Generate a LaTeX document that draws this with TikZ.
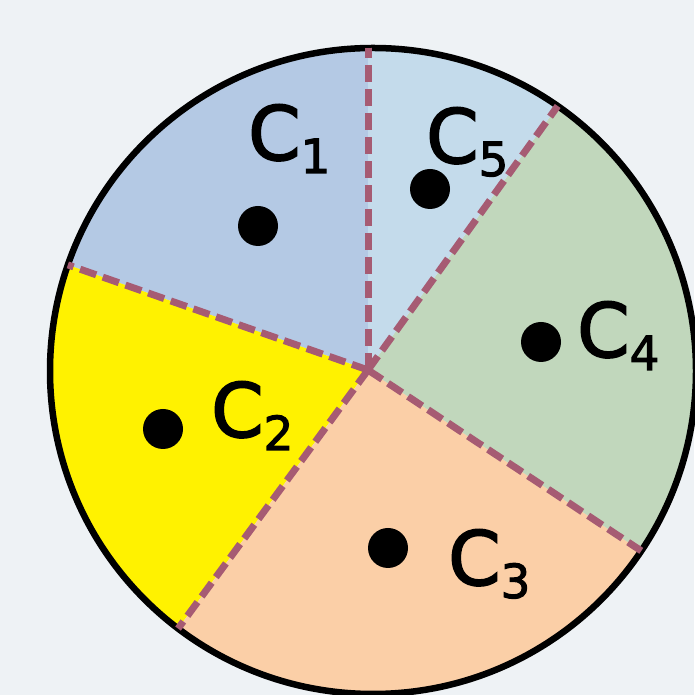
\documentclass[tikz,border=0pt]{standalone}
\usepackage{fontspec}
\setmainfont{DejaVu Sans}
\newfontfamily\lblfont[FakeBold=2.2]{DejaVu Sans}
\usetikzlibrary{calc}
\definecolor{bg}{HTML}{EEF2F5}
\definecolor{cone}{HTML}{B4C9E4}
\definecolor{ctwo}{HTML}{FFF200}
\definecolor{cthree}{HTML}{FBCFA7}
\definecolor{cfour}{HTML}{C1D7BC}
\definecolor{cfive}{HTML}{C4DBEB}
\definecolor{divcol}{HTML}{A65B73}
\newcommand{\subfont}{\fontsize{47}{47}\selectfont}
\tikzset{
  dot/.style={circle,fill=black,inner sep=0pt,minimum size=40pt},
  lbl/.style={anchor=base west,inner sep=0pt,font=\lblfont\fontsize{75}{75}\selectfont},
  divider/.style={divcol,line width=7pt,dash pattern=on 17pt off 7pt},
  ring/.style={black,line width=6.5pt}
}
\newcommand{\lab}[1]{C\kern0pt\raisebox{-13pt}{\subfont #1}}
\begin{document}
\begin{tikzpicture}[x=1pt,y=1pt]
\fill[bg] (0,0) rectangle (694,695);
\useasboundingbox (0,0) rectangle (694,695);
\def\R{323}
\coordinate (M) at (373,324);
\coordinate (O) at (368,325);
\begin{scope}
\clip (M) circle[radius=\R];
\fill[cone]   (O) -- ++(90:500)    arc[start angle=90,   end angle=160.7, radius=500] -- cycle;
\fill[ctwo]   (O) -- ++(160.7:500) arc[start angle=160.7,end angle=233.7, radius=500] -- cycle;
\fill[cthree] (O) -- ++(233.7:500) arc[start angle=233.7,end angle=326.5, radius=500] -- cycle;
\fill[cfour]  (O) -- ++(326.5:500) arc[start angle=326.5,end angle=414.3, radius=500] -- cycle;
\fill[cfive]  (O) -- ++(54.3:500)  arc[start angle=54.3, end angle=90,    radius=500] -- cycle;
\end{scope}
\draw[ring] (M) circle[radius=\R];
\coordinate (e1) at ($(O)+(90:400)$);
\coordinate (e2) at ($(O)+(160.7:400)$);
\coordinate (e3) at ($(O)+(233.7:400)$);
\coordinate (e4) at ($(O)+(326.5:400)$);
\coordinate (e5) at ($(O)+(54.3:400)$);
\begin{scope}
\clip (M) circle[radius=\R];
\foreach \e in {e1,e2,e3,e4,e5} \draw[divider] (O) -- (\e);
\end{scope}
\node[dot] (d1) at (258,469) {};
\node[dot] (d5) at (430,506) {};
\node[dot] (d4) at (541,353) {};
\node[dot] (d2) at (163,266) {};
\node[dot] (d3) at (388,147) {};
\node[lbl] (l1) at (248,535) {\lab{1}};
\node[lbl] (l5) at (426,532) {\lab{5}};
\node[lbl] (l4) at (577,338) {\lab{4}};
\node[lbl] (l2) at (211,258) {\lab{2}};
\node[lbl] (l3) at (448,110) {\lab{3}};
\end{tikzpicture}
\end{document}
